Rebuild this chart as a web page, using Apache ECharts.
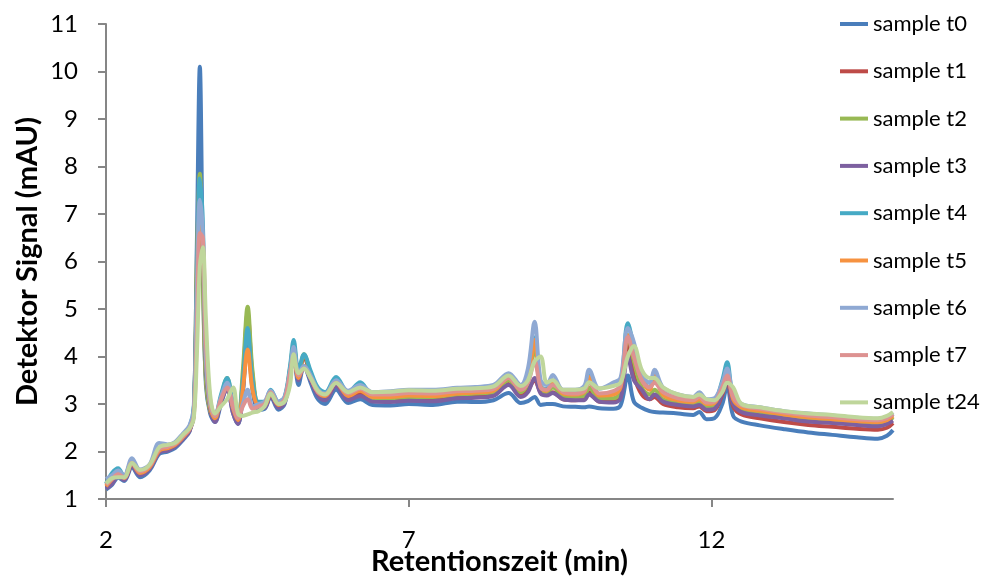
<!DOCTYPE html>
<html>
<head>
<meta charset="utf-8">
<script src="https://cdn.jsdelivr.net/npm/echarts@6/dist/echarts.min.js"></script>
<style>
  html, body { margin: 0; padding: 0; background: #fff; }
  #chart { width: 993px; height: 581px; }
</style>
</head>
<body>
<div id="chart"></div>
<script>
// retention time (min), shared by all samples
const times = [
  2.00, 2.10, 2.20, 2.30, 2.43, 2.56, 2.72, 2.88, 3.02, 3.14,
  3.27, 3.38, 3.45, 3.50, 3.55, 3.60, 3.65, 3.72, 3.80, 3.90,
  4.00, 4.10, 4.18, 4.26, 4.34, 4.42, 4.52, 4.62, 4.72, 4.85,
  4.95, 5.04, 5.10, 5.18, 5.27, 5.38, 5.50, 5.62, 5.80, 6.00,
  6.20, 6.40, 6.70, 7.00, 7.40, 7.80, 8.10, 8.40, 8.65, 8.85,
  8.97, 9.08, 9.18, 9.28, 9.38, 9.55, 9.75, 9.90, 9.98, 10.15,
  10.38, 10.50, 10.62, 10.72, 10.85, 10.98, 11.06, 11.20, 11.45, 11.70,
  11.80, 11.92, 12.05, 12.18, 12.26, 12.36, 12.50, 12.80, 13.20, 13.60,
  14.00, 14.40, 14.75, 14.90, 15.00
];

const t0 = [
  1.2, 1.3, 1.45, 1.38, 1.67, 1.46, 1.6, 1.95, 2.0, 2.07,
  2.24, 2.42, 2.85, 6.3, 10.1, 6.0, 3.4, 2.8, 2.62, 3.0,
  3.35, 2.8, 2.58, 3.2, 4.5, 3.3, 2.88, 2.9, 3.15, 2.88,
  3.0, 3.6, 4.1, 3.4, 3.8, 3.45, 3.1, 3.0, 3.3, 3.02,
  3.1, 2.98, 2.97, 3.0, 2.98, 3.05, 3.04, 3.08, 3.23, 3.02,
  3.06, 3.15, 2.98, 3.0, 3.0, 2.95, 2.94, 2.93, 2.95, 2.91,
  2.9, 2.97, 3.6, 3.05, 2.92, 2.85, 2.83, 2.82, 2.8, 2.77,
  2.83, 2.68, 2.7, 3.0, 3.4, 2.75, 2.63, 2.55, 2.47, 2.4,
  2.35, 2.3, 2.27, 2.33, 2.45
];
const t1 = [
  1.25, 1.35, 1.5, 1.42, 1.72, 1.52, 1.65, 2.0, 2.05, 2.12,
  2.28, 2.45, 2.8, 5.6, 7.7, 6.0, 3.6, 2.85, 2.68, 3.1,
  3.45, 2.9, 2.65, 3.5, 4.9, 3.6, 2.95, 2.95, 3.2, 2.95,
  3.05, 3.7, 4.2, 3.55, 4.0, 3.6, 3.25, 3.12, 3.42, 3.12,
  3.22, 3.08, 3.07, 3.1, 3.1, 3.15, 3.17, 3.2, 3.42, 3.2,
  3.3, 3.5, 3.25, 3.2, 3.25, 3.1, 3.08, 3.1, 3.25, 3.05,
  3.05, 3.15, 4.3, 3.6, 3.2, 3.1, 3.15, 3.0, 2.93, 2.91,
  2.95, 2.85, 2.87, 3.2, 3.5, 2.95, 2.78, 2.7, 2.62, 2.56,
  2.52, 2.48, 2.46, 2.5, 2.6
];
const t2 = [
  1.28, 1.4, 1.55, 1.45, 1.75, 1.55, 1.68, 2.03, 2.08, 2.15,
  2.3, 2.48, 2.85, 6.0, 7.85, 5.5, 3.5, 2.85, 2.7, 3.15,
  3.55, 2.95, 2.68, 3.7, 5.05, 3.7, 3.0, 3.0, 3.25, 3.0,
  3.1, 3.75, 4.25, 3.6, 4.05, 3.65, 3.3, 3.18, 3.5, 3.18,
  3.3, 3.12, 3.12, 3.15, 3.15, 3.2, 3.22, 3.25, 3.5, 3.25,
  3.45, 4.2, 3.3, 3.25, 3.35, 3.18, 3.15, 3.17, 3.35, 3.12,
  3.12, 3.25, 4.45, 3.9, 3.35, 3.2, 3.3, 3.1, 3.03, 3.0,
  3.05, 2.95, 2.98, 3.35, 3.7, 3.05, 2.9, 2.82, 2.74, 2.68,
  2.64, 2.6, 2.58, 2.62, 2.72
];
const t3 = [
  1.22, 1.32, 1.48, 1.4, 1.7, 1.5, 1.63, 1.98, 2.02, 2.1,
  2.26, 2.43, 2.8, 5.4, 7.6, 6.2, 3.8, 2.9, 2.62, 3.05,
  3.3, 2.8, 2.58, 3.3, 4.4, 3.4, 2.92, 2.92, 3.18, 2.92,
  3.02, 3.6, 4.0, 3.5, 3.8, 3.5, 3.18, 3.08, 3.38, 3.08,
  3.17, 3.05, 3.04, 3.07, 3.06, 3.12, 3.13, 3.17, 3.4, 3.15,
  3.25, 3.55, 3.22, 3.18, 3.23, 3.1, 3.08, 3.08, 3.2, 3.05,
  3.03, 3.12, 4.0, 3.5, 3.3, 3.1, 3.2, 3.05, 2.98, 2.95,
  2.98, 2.88, 2.9, 3.25, 3.55, 3.0, 2.83, 2.76, 2.7, 2.63,
  2.6, 2.56, 2.53, 2.58, 2.65
];
const t4 = [
  1.32, 1.55, 1.65, 1.47, 1.8, 1.58, 1.7, 2.07, 2.12, 2.18,
  2.35, 2.52, 2.95, 5.5, 7.75, 6.8, 4.0, 3.0, 2.75, 3.2,
  3.55, 3.0, 2.7, 3.5, 4.6, 3.5, 3.05, 3.05, 3.3, 3.05,
  3.15, 3.8, 4.35, 3.7, 4.05, 3.7, 3.35, 3.25, 3.57, 3.25,
  3.46, 3.2, 3.2, 3.23, 3.23, 3.28, 3.3, 3.33, 3.6, 3.35,
  3.55, 4.4, 3.38, 3.32, 3.5, 3.25, 3.23, 3.28, 3.6, 3.2,
  3.22, 3.4, 4.7, 4.2, 3.55, 3.35, 3.6, 3.25, 3.1, 3.07,
  3.15, 3.02, 3.05, 3.5, 3.88, 3.15, 2.95, 2.88, 2.8, 2.75,
  2.7, 2.66, 2.64, 2.68, 2.78
];
const t5 = [
  1.27, 1.42, 1.55, 1.44, 1.75, 1.55, 1.67, 2.02, 2.07, 2.14,
  2.3, 2.47, 2.8, 5.0, 7.0, 6.3, 4.0, 2.95, 2.7, 3.1,
  3.4, 2.9, 2.66, 3.3, 4.15, 3.3, 2.98, 2.98, 3.22, 2.98,
  3.08, 3.65, 4.0, 3.55, 3.8, 3.55, 3.25, 3.17, 3.45, 3.17,
  3.28, 3.15, 3.15, 3.18, 3.17, 3.22, 3.24, 3.28, 3.55, 3.3,
  3.5, 4.35, 3.35, 3.28, 3.45, 3.22, 3.2, 3.25, 3.57, 3.18,
  3.2, 3.35, 4.45, 4.0, 3.5, 3.3, 3.6, 3.2, 3.08, 3.05,
  3.1, 3.0, 3.02, 3.4, 3.65, 3.1, 2.93, 2.86, 2.78, 2.72,
  2.68, 2.64, 2.62, 2.66, 2.75
];
const t6 = [
  1.42, 1.5, 1.6, 1.5, 1.86, 1.62, 1.73, 2.18, 2.15, 2.2,
  2.38, 2.55, 2.9, 5.3, 7.3, 6.6, 4.0, 3.0, 2.75, 3.15,
  3.45, 2.95, 2.72, 3.0, 3.3, 2.95, 3.0, 3.05, 3.28, 3.05,
  3.15, 3.7, 4.2, 3.65, 3.8, 3.6, 3.3, 3.22, 3.5, 3.28,
  3.4, 3.25, 3.27, 3.3, 3.3, 3.34, 3.36, 3.4, 3.65, 3.4,
  3.75, 4.73, 3.5, 3.4, 3.61, 3.3, 3.3, 3.38, 3.72, 3.32,
  3.45, 3.55, 4.6, 4.3, 3.6, 3.45, 3.72, 3.35, 3.2, 3.15,
  3.25, 3.1, 3.12, 3.45, 3.75, 3.2, 3.0, 2.93, 2.85, 2.8,
  2.76, 2.71, 2.69, 2.73, 2.82
];
const t7 = [
  1.3, 1.42, 1.52, 1.45, 1.76, 1.58, 1.7, 2.05, 2.1, 2.16,
  2.32, 2.48, 2.75, 4.5, 6.6, 6.5, 4.3, 3.1, 2.75, 3.1,
  3.35, 2.95, 2.7, 2.95, 3.1, 2.9, 2.95, 3.0, 3.25, 3.0,
  3.1, 3.65, 4.0, 3.6, 3.75, 3.55, 3.25, 3.2, 3.45, 3.22,
  3.32, 3.2, 3.2, 3.23, 3.22, 3.27, 3.28, 3.32, 3.55, 3.3,
  3.45, 3.9, 3.35, 3.3, 3.4, 3.25, 3.22, 3.27, 3.45, 3.22,
  3.27, 3.4, 4.41, 4.0, 3.5, 3.35, 3.45, 3.25, 3.12, 3.08,
  3.15, 3.03, 3.05, 3.35, 3.6, 3.15, 2.97, 2.9, 2.82, 2.76,
  2.72, 2.68, 2.66, 2.7, 2.79
];
const t24 = [
  1.33, 1.44, 1.46, 1.46, 1.76, 1.61, 1.72, 2.09, 2.14, 2.18,
  2.35, 2.49, 2.7, 4.0, 5.9, 6.3, 4.8, 3.2, 2.8, 2.95,
  3.1, 3.35, 2.8, 2.75, 2.78, 2.82, 2.85, 2.95, 3.22, 3.0,
  3.05, 3.4, 4.05, 3.65, 3.75, 3.55, 3.28, 3.2, 3.44, 3.25,
  3.35, 3.25, 3.26, 3.29, 3.28, 3.32, 3.33, 3.37, 3.6, 3.38,
  3.5, 3.9, 4.0, 3.45, 3.5, 3.3, 3.3, 3.33, 3.46, 3.33,
  3.38, 3.45, 4.0, 4.22, 3.72, 3.55, 3.55, 3.35, 3.2, 3.15,
  3.2, 3.1, 3.08, 3.25, 3.45, 3.35, 3.0, 2.93, 2.85, 2.8,
  2.77, 2.72, 2.7, 2.75, 2.83
];

const sampleNames = ["sample t0", "sample t1", "sample t2", "sample t3", "sample t4",
  "sample t5", "sample t6", "sample t7", "sample t24"];
const sampleValues = [t0, t1, t2, t3, t4, t5, t6, t7, t24];
const sampleColors = ["#4A7EBB", "#BE4B48", "#98B954", "#7D60A0", "#46AAC5",
  "#F69240", "#8FA9D3", "#DD9291", "#BFD69B"];

const xTicks = [2, 7, 12];

const chart = echarts.init(document.getElementById("chart"));

const axisColor = "#868686";
const font = "Lato, 'Open Sans', sans-serif";

const option = {
  animation: false,
  backgroundColor: "#fff",
  grid: { left: 106, right: 100, top: 24, bottom: 82, outerBoundsMode: "none" },
  legend: {
    orient: "vertical",
    left: 835,
    top: 8,
    itemGap: 25.3,
    itemWidth: 28,
    itemHeight: 4,
    icon: "rect",
    textStyle: { fontFamily: font, fontSize: 22, color: "#000" },
    data: sampleNames,
  },
  xAxis: {
    type: "value",
    min: 2,
    max: 15,
    name: "Retentionszeit (min)",
    nameLocation: "middle",
    nameGap: 48,
    nameMoveOverlap: false,
    nameTextStyle: { fontFamily: font, fontSize: 29, fontWeight: "bold", color: "#000" },
    axisLine: { lineStyle: { color: axisColor, width: 2 } },
    axisTick: { show: true, length: 8, lineStyle: { color: axisColor, width: 2 }, customValues: xTicks },
    axisLabel: { fontFamily: font, fontSize: 24, color: "#000", margin: 29, customValues: xTicks },
    splitLine: { show: false },
  },
  yAxis: {
    type: "value",
    min: 1,
    max: 11,
    interval: 1,
    name: "Detektor Signal (mAU)",
    nameLocation: "middle",
    nameGap: 64,
    nameMoveOverlap: false,
    nameTextStyle: { fontFamily: font, fontSize: 29, fontWeight: "bold", color: "#000" },
    axisLine: { show: true, lineStyle: { color: axisColor, width: 2 } },
    axisTick: { show: true, length: 8, lineStyle: { color: axisColor, width: 2 } },
    axisLabel: { fontFamily: font, fontSize: 24, color: "#000", margin: 28 },
    splitLine: { show: false },
  },
  series: sampleNames.map((name, k) => ({
    name: name,
    type: "line",
    showSymbol: false,
    symbol: "none",
    smooth: 0.35,
    color: sampleColors[k],
    lineStyle: { width: 4, color: sampleColors[k] },
    data: times.map((t, i) => [t, sampleValues[k][i]]),
  })),
};

chart.setOption(option);
</script>
</body>
</html>
